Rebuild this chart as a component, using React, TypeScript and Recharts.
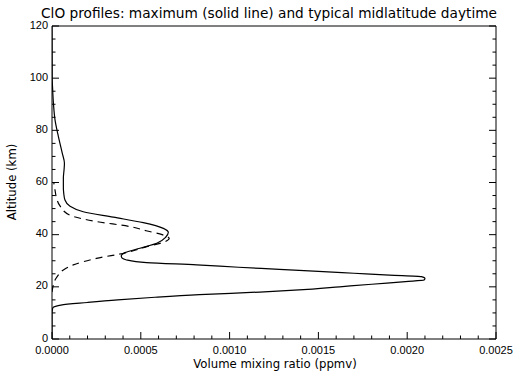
import React from "react";
import { ScatterChart, Scatter, XAxis, YAxis } from "recharts";

// maximum ClO profile (solid line)
const maxAlt = [0, 10, 11.5, 12, 12.5, 13, 14, 15, 16, 17, 18, 19, 20, 21, 22, 22.6, 23.2, 23.9, 24.5, 25.2, 25.9, 26.7, 27.5, 28.4, 29.3, 30.3, 31, 31.8, 33.1, 34.8, 36.7, 39, 40.9, 42.4, 44.6, 46.7, 48.8, 51, 53.3, 55.9, 58, 61.7, 65, 67.4, 71.2, 77.6, 84, 90.4, 96.7, 100, 120];
const maxVmr = [0, 0, 0.000003, 0.000005, 0.00002, 0.00005, 0.0002, 0.00037, 0.00058, 0.00083, 0.00117, 0.00144, 0.00162, 0.0018, 0.00199, 0.002095, 0.0021, 0.00208, 0.0019, 0.0017, 0.0015, 0.00128, 0.00105, 0.000815, 0.000533, 0.00042, 0.000395, 0.00039, 0.00041, 0.000495, 0.00059, 0.00064, 0.000655, 0.000627, 0.000514, 0.000345, 0.000176, 0.0001, 0.000073, 0.000066, 0.000064, 0.000064, 0.000068, 0.00007, 0.000058, 0.000036, 0.000017, 0.000008, 0.000003, 0.000001, 0];

// typical midlatitude daytime profile (dashed line)
const typAlt = [18, 20, 22.6, 24, 26.5, 28.4, 30.9, 33.1, 35.4, 37.3, 38.6, 40, 41.5, 43.1, 45, 47.5, 51, 53.9, 57.1, 60];
const typVmr = [0, 0.000005, 0.000017, 0.00003, 0.000064, 0.00012, 0.00025, 0.00042, 0.000533, 0.000636, 0.00066, 0.00062, 0.00053, 0.00044, 0.000252, 0.0001, 0.000045, 0.000026, 0.000017, 0.00001];

const xTicks = Array.from({ length: 26 }, (_, i) => i / 10000);
const yTicks = Array.from({ length: 25 }, (_, i) => i * 5);

const maxData = maxAlt.map((a, i) => ({ x: maxVmr[i], y: a }));
const typData = typAlt.map((a, i) => ({ x: typVmr[i], y: a }));

const FONT = "'Liberation Sans', Arial, sans-serif";
const LABEL_FONT = "'DejaVu Sans', sans-serif";

const isMajorX = (v: number) => Math.round(v * 10000) % 5 === 0;
const isMajorY = (v: number) => Math.round(v) % 20 === 0;

const BottomTick = (p: any) => {
  const v = p.payload.value;
  const major = isMajorX(v);
  return (
    <g>
      <line x1={p.x} x2={p.x} y1={p.y} y2={p.y - (major ? 7 : 3.5)} stroke="#000" />
      {major && (
        <text x={p.x} y={p.y + 14.5} textAnchor="middle" fontSize={11} fontFamily={FONT} fill="#000">
          {v.toFixed(4)}
        </text>
      )}
    </g>
  );
};

const TopTick = (p: any) => {
  const major = isMajorX(p.payload.value);
  return <line x1={p.x} x2={p.x} y1={p.y} y2={p.y + (major ? 7 : 3.5)} stroke="#000" />;
};

const LeftTick = (p: any) => {
  const v = p.payload.value;
  const major = isMajorY(v);
  return (
    <g>
      <line x1={p.x} x2={p.x + (major ? 7 : 3.5)} y1={p.y} y2={p.y} stroke="#000" />
      {major && (
        <text x={p.x - 4} y={p.y + 2.5} textAnchor="end" fontSize={11} fontFamily={FONT} fill="#000">
          {v}
        </text>
      )}
    </g>
  );
};

const RightTick = (p: any) => {
  const major = isMajorY(p.payload.value);
  return <line x1={p.x} x2={p.x - (major ? 7 : 3.5)} y1={p.y} y2={p.y} stroke="#000" />;
};

const NoDot = () => <g />;

export default function App() {
  return (
    <div style={{ position: "absolute", left: 0, top: 0, width: 514, height: 373, background: "#fff" }}>
      <ScatterChart width={514} height={373} margin={{ top: 25, right: 17, bottom: 33, left: 51 }}>
        <XAxis
          xAxisId={0}
          type="number"
          dataKey="x"
          domain={[0, 0.0025]}
          ticks={xTicks}
          interval={0}
          height={1}
          tickSize={0}
          tickMargin={0}
          tickLine={false}
          tick={<BottomTick />}
          axisLine={{ stroke: "#000" }}
          allowDataOverflow
        />
        <XAxis
          xAxisId="top"
          orientation="top"
          type="number"
          domain={[0, 0.0025]}
          ticks={xTicks}
          interval={0}
          height={1}
          tickSize={0}
          tickMargin={0}
          tickLine={false}
          tick={<TopTick />}
          axisLine={{ stroke: "#000" }}
          allowDataOverflow
        />
        <YAxis
          yAxisId={0}
          type="number"
          dataKey="y"
          domain={[0, 120]}
          ticks={yTicks}
          interval={0}
          width={1}
          tickSize={0}
          tickMargin={0}
          tickLine={false}
          tick={<LeftTick />}
          axisLine={{ stroke: "#000" }}
          allowDataOverflow
        />
        <YAxis
          yAxisId="right"
          orientation="right"
          type="number"
          domain={[0, 120]}
          ticks={yTicks}
          interval={0}
          width={1}
          tickSize={0}
          tickMargin={0}
          tickLine={false}
          tick={<RightTick />}
          axisLine={{ stroke: "#000" }}
          allowDataOverflow
        />
        <Scatter
          data={maxData}
          fill="#000"
          line={{ stroke: "#000", strokeWidth: 1.2 }}
          lineJointType="monotoneY"
          shape={<NoDot />}
          isAnimationActive={false}
        />
        <Scatter
          data={typData}
          fill="#000"
          line={{ stroke: "#000", strokeWidth: 1.2, strokeDasharray: "7 5" }}
          lineJointType="monotoneY"
          shape={<NoDot />}
          isAnimationActive={false}
        />
        <text x={269} y={18} textAnchor="middle" fontSize={13.7} fontFamily={LABEL_FONT} fill="#000">
          ClO profiles: maximum (solid line) and typical midlatitude daytime
        </text>
        <text x={275} y={368} textAnchor="middle" fontSize={11.7} fontFamily={LABEL_FONT} fill="#000">
          Volume mixing ratio (ppmv)
        </text>
        <text
          x={16}
          y={182}
          textAnchor="middle"
          fontSize={11.7}
          fontFamily={LABEL_FONT}
          fill="#000"
          transform="rotate(-90 16 182)"
        >
          Altitude (km)
        </text>
      </ScatterChart>
    </div>
  );
}
